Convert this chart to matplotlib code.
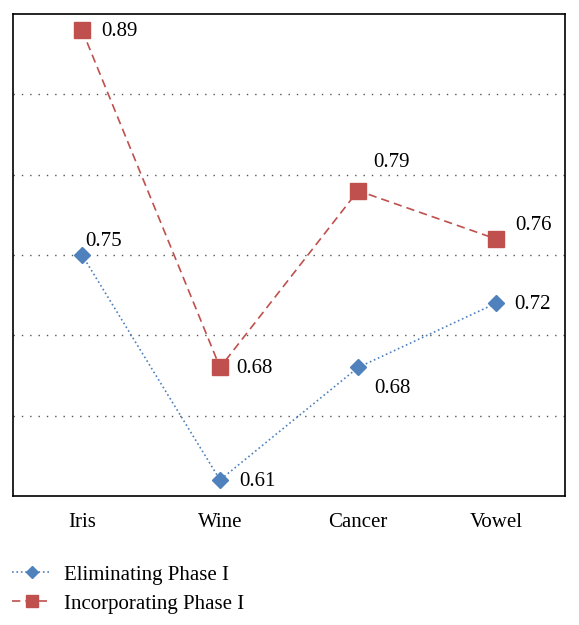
import matplotlib
matplotlib.use('Agg')
import matplotlib.pyplot as plt

# data
categories = ['Iris', 'Wine', 'Cancer', 'Vowel']
eliminating = [0.75, 0.61, 0.68, 0.72]
incorporating = [0.89, 0.68, 0.79, 0.76]

blue = '#4F81BD'
red = '#C0504D'

plt.rcParams['font.family'] = ['Liberation Serif', 'DejaVu Serif']

fig = plt.figure(figsize=(5.79, 6.25), dpi=100)
ax = fig.add_axes([0.0225, 0.2064, 0.9535, 0.7712])

x = list(range(len(categories)))
ax.plot(x, eliminating, linestyle=':', color=blue, marker='D', markersize=8,
        linewidth=1.2, label='Eliminating Phase I')
ax.plot(x, incorporating, linestyle='--', color=red, marker='s', markersize=11,
        linewidth=1.2, dashes=(5, 3), label='Incorporating Phase I')

# label offsets in points
elim_off = [(2, 10), (14, -1), (12, -15), (13, -1)]
inc_off = [(14, -1), (12, -1), (11, 20), (14, 10)]
for i in x:
    ax.annotate('%.2f' % eliminating[i], (i, eliminating[i]), xytext=elim_off[i],
                textcoords='offset points', fontsize=15, va='center', ha='left')
    ax.annotate('%.2f' % incorporating[i], (i, incorporating[i]), xytext=inc_off[i],
                textcoords='offset points', fontsize=15, va='center', ha='left')

ax.set_xlim(-0.5, 3.5)
ax.set_ylim(0.60, 0.90)
ax.set_xticks(x)
ax.set_xticklabels(categories, fontsize=15)
ax.set_yticks([0.65, 0.70, 0.75, 0.80, 0.85])
ax.set_yticklabels([])
ax.tick_params(length=0, pad=12)
ax.yaxis.grid(True, linestyle=(0, (1, 5)), color='#555555', linewidth=1)
for s in ax.spines.values():
    s.set_linewidth(1.2)

fig.legend(loc='upper left', bbox_to_anchor=(-0.012, 0.126), frameon=False,
           fontsize=15, handlelength=1.9, handletextpad=0.6, labelspacing=0.45,
           markerscale=0.75)

plt.savefig('out.png', dpi=100)
